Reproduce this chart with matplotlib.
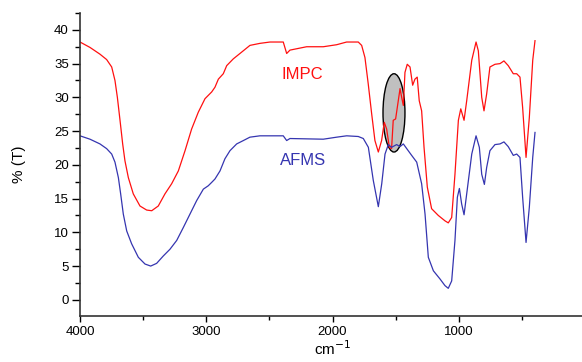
import matplotlib.pyplot as plt
from matplotlib.patches import Ellipse
from matplotlib.ticker import MultipleLocator

# IMPC spectrum (red), wavenumber in cm-1 and %T
impc_wn = [4000, 3921, 3842, 3789, 3749, 3723, 3704, 3683, 3662, 3644, 3617, 3578,
           3525, 3472, 3432, 3380, 3327, 3274, 3221, 3168, 3116, 3063, 3010, 2957,
           2931, 2904, 2865, 2838, 2786, 2733, 2654, 2575, 2495, 2390, 2363, 2337,
           2205, 2073, 1967, 1888, 1796, 1769, 1743, 1717, 1690, 1664, 1637, 1611,
           1590, 1571, 1550, 1532, 1519, 1500, 1479, 1465, 1452, 1439, 1426, 1408,
           1386, 1365, 1347, 1329, 1313, 1294, 1275, 1249, 1215, 1162, 1109, 1083,
           1056, 1030, 1003, 984, 958, 937, 897, 863, 845, 818, 800, 779, 753, 713,
           673, 642, 608, 568, 541, 515, 494, 467, 441, 414, 396]
impc_t = [38.2, 37.4, 36.4, 35.6, 34.5, 32.5, 30.0, 26.6, 23.1, 20.6, 18.1, 15.7,
          13.9, 13.3, 13.2, 13.9, 15.7, 17.2, 19.1, 22.1, 25.3, 27.8, 29.8, 30.8,
          31.5, 32.7, 33.5, 34.7, 35.7, 36.5, 37.7, 38.0, 38.2, 38.2, 36.5, 37.0,
          37.5, 37.5, 37.8, 38.2, 38.2, 37.7, 35.9, 32.0, 27.6, 23.6, 21.9, 23.6,
          26.3, 25.3, 22.6, 22.4, 26.6, 26.8, 29.5, 31.3, 30.0, 28.8, 33.7, 34.9,
          34.5, 31.8, 32.7, 33.0, 29.5, 28.0, 22.6, 16.7, 13.5, 12.5, 11.7, 11.4,
          12.2, 18.6, 26.6, 28.3, 26.6, 29.5, 35.5, 38.2, 36.9, 30.0, 28.0, 30.5, 34.5, 34.9,
          35.0, 35.4, 34.7, 33.5, 33.5, 33.0, 28.5, 21.1, 27.0, 35.5, 38.4]

# AFMS spectrum (blue)
afms_wn = [4000, 3921, 3842, 3789, 3749, 3723, 3696, 3678, 3657, 3630, 3591, 3538,
           3485, 3440, 3393, 3340, 3287, 3234, 3182, 3129, 3076, 3023, 2984, 2957,
           2931, 2891, 2852, 2812, 2759, 2706, 2654, 2575, 2390, 2363, 2337, 2073,
           1967, 1888, 1796, 1756, 1716, 1677, 1637, 1610, 1584, 1558, 1532, 1492,
           1465, 1439, 1412, 1373, 1333, 1294, 1267, 1241, 1201, 1149, 1109, 1083,
           1056, 1030, 1011, 995, 977, 958, 937, 897, 863, 837, 818, 797, 779, 753,
           713, 673, 642, 608, 568, 541, 515, 494, 467, 441, 414, 396]
afms_t = [24.3, 23.8, 23.1, 22.4, 21.6, 20.4, 18.1, 15.7, 12.7, 10.2, 8.3, 6.3,
          5.3, 5.0, 5.4, 6.5, 7.5, 8.8, 10.7, 12.7, 14.7, 16.4, 16.9, 17.4,
          17.9, 19.1, 20.9, 22.1, 23.1, 23.6, 24.1, 24.3, 24.3, 23.6, 23.9, 23.8,
          24.1, 24.3, 24.2, 23.9, 22.6, 17.7, 13.8, 17.2, 21.6, 23.0, 22.6, 23.0,
          22.7, 23.1, 22.4, 21.4, 20.4, 17.2, 12.7, 6.3, 4.3, 3.1, 2.1, 1.7,
          2.8, 8.8, 15.2, 16.5, 14.2, 12.6, 15.7, 21.6, 24.3, 22.6, 18.6, 17.1, 19.6, 22.1,
          23.0, 23.1, 23.4, 22.7, 21.4, 21.6, 21.1, 15.2, 8.5, 13.7, 21.1, 24.8]

plt.rcParams['font.family'] = ['Liberation Sans', 'DejaVu Sans']

fig = plt.figure(figsize=(5.82, 3.62), dpi=100)
ax = fig.add_axes([80 / 582, 1 - 316 / 362, 505 / 582, 303 / 362])

# highlighted region
ax.add_patch(Ellipse((1513, 27.7), 174, 11.6, facecolor='#c0c0c0',
                     edgecolor='black', lw=1.0, zorder=1))

ax.plot(impc_wn, impc_t, color='#ff1010', lw=0.9, zorder=2)
ax.plot(afms_wn, afms_t, color='#3535b0', lw=0.9, zorder=2)

ax.text(2405, 32.7, 'IMPC', color='#ff1010', fontsize=12)
ax.text(2418, 20.0, 'AFMS', color='#3535b0', fontsize=12)

ax.set_xlim(4000, 0)
ax.set_ylim(-2.4, 42.5)
ax.xaxis.set_major_locator(MultipleLocator(1000))
ax.xaxis.set_minor_locator(MultipleLocator(500))
ax.yaxis.set_major_locator(MultipleLocator(5))
ax.yaxis.set_minor_locator(MultipleLocator(2.5))

for s in ['top', 'right']:
    ax.spines[s].set_visible(False)
for s in ['left', 'bottom']:
    ax.spines[s].set_linewidth(1.2)
    ax.spines[s].set_color('#333333')

ax.tick_params(axis='y', which='major', direction='out', length=6, width=1, labelsize=9.5, pad=2)
ax.tick_params(axis='y', which='minor', direction='out', length=3.5, width=1)
ax.tick_params(axis='x', which='major', direction='out', length=4, width=1, labelsize=9.5, pad=3)
ax.tick_params(axis='x', which='minor', direction='out', length=3, width=1)

ax.set_ylabel('% (T)', fontsize=11, labelpad=20)
ax.set_xlabel('cm$^{-1}$', fontsize=11, labelpad=1)

plt.savefig('out.png', dpi=100)
